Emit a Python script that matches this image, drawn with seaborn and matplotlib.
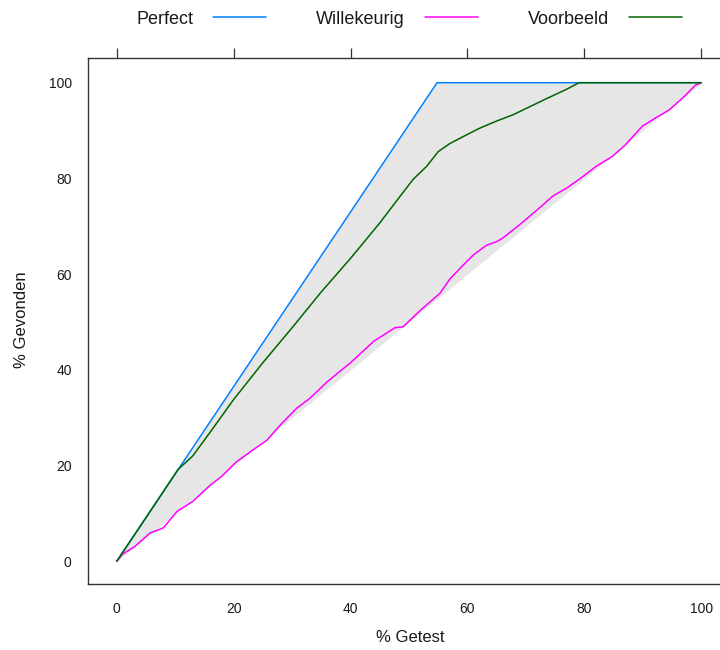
import matplotlib
matplotlib.use("Agg")
import matplotlib.pyplot as plt
import seaborn as sns
import pandas as pd

# ---- data ----
perfect_x = [0, 54.8, 100]
perfect_y = [0, 100, 100]

random_x = [0, 1, 3, 5.7, 8, 10.3, 13, 16, 18, 20.5, 23, 25.7, 28, 30.8, 33, 36,
            40, 44, 47.6, 49, 52, 55.3, 57, 59.2, 61, 63.2, 65, 66, 68.9, 72,
            74.6, 77, 79.1, 82, 84.8, 87, 89.9, 92, 94.5, 97, 99, 100]
random_y = [0, 1.5, 3, 5.9, 7, 10.4, 12.5, 15.9, 17.8, 20.8, 23, 25.3, 28.5, 32, 34, 37.5,
            41.5, 46, 48.8, 49, 52.5, 56, 59, 61.8, 64, 66, 66.8, 67.5, 70.3, 73.5,
            76.3, 78, 79.8, 82.5, 84.6, 87, 90.9, 92.5, 94.3, 97, 99.5, 100]

model_x = [0, 5, 10.5, 13, 16, 20, 25, 30, 35, 40, 45, 48, 50.7, 53, 55, 57, 60,
           62.1, 65, 67.8, 70, 73.4, 76.9, 79.1, 85, 90, 95, 100]
model_y = [0, 9.1, 19.2, 22, 27, 33.8, 41.5, 48.8, 56.3, 63.3, 70.7, 75.5, 79.8, 82.5,
           85.6, 87.3, 89.2, 90.5, 92, 93.3, 94.6, 96.6, 98.6, 100, 100, 100, 100, 100]

series_names = ["Perfect", "Willekeurig", "Voorbeeld"]
series_colors = ["#0080ff", "#ff00ff", "#006400"]
x_ticks = [0, 20, 40, 60, 80, 100]
y_ticks = [0, 20, 40, 60, 80, 100]
x_label = "% Getest"
y_label = "% Gevonden"

# ---- build long table ----
frames = []
for name, xs, ys in zip(series_names,
                        [perfect_x, random_x, model_x],
                        [perfect_y, random_y, model_y]):
    frames.append(pd.DataFrame({"x": xs, "y": ys, "serie": name}))
df = pd.concat(frames, ignore_index=True)

sns.set_style("white")
plt.rcParams["font.family"] = ["Liberation Sans", "DejaVu Sans"]

fig = plt.figure(figsize=(7.2, 6.5), dpi=100)
W, H = 720, 650
left_px, right_px, top_px, bottom_px = 88.3, 729.7, 58.3, 583.7
ax = fig.add_axes([left_px / W, 1 - bottom_px / H,
                   (right_px - left_px) / W, (bottom_px - top_px) / H])

# shaded area between perfect curve and the diagonal
ax.fill_between(perfect_x, perfect_x, perfect_y, color="#E6E6E6", lw=0, zorder=0)

sns.lineplot(data=df, x="x", y="y", hue="serie", hue_order=series_names,
             palette=series_colors, sort=False, estimator=None, lw=1.1, ax=ax)

ax.set_xlim(-4.86, 104.86)
ax.set_ylim(-4.68, 105.1)
ax.set_xticks(x_ticks)
ax.set_yticks(y_ticks)

for side in ["left", "bottom", "top", "right"]:
    ax.spines[side].set_color("#333333")
    ax.spines[side].set_linewidth(1.0)

ax.tick_params(axis="both", direction="out", length=7, width=0.9, color="#333333",
               labelsize=10, labelcolor="#1a1a1a")
ax.tick_params(axis="x", top=True, labeltop=False, pad=6.5)
ax.tick_params(axis="y", right=False, pad=5)

ax.set_xlabel(x_label, fontsize=12, color="#1a1a1a")
ax.set_ylabel(y_label, fontsize=12, color="#1a1a1a")
ax.xaxis.set_label_coords((410 - left_px) / (right_px - left_px), (bottom_px - 637) / (bottom_px - top_px))
ax.xaxis.label.set_verticalalignment("center")
ax.yaxis.set_label_coords((21.3 - left_px) / (right_px - left_px), (bottom_px - 320) / (bottom_px - top_px))
ax.yaxis.label.set_verticalalignment("center")

handles, labels = ax.get_legend_handles_labels()
leg = ax.legend(handles, labels, ncol=3, markerfirst=False, frameon=False,
                loc="center", bbox_to_anchor=(409 / W, 1 - 19 / H),
                bbox_transform=fig.transFigure, fontsize=13,
                handlelength=2.93, handletextpad=1.1, columnspacing=2.77)
for t in leg.get_texts():
    t.set_color("#1a1a1a")

fig.savefig("out.png", dpi=100)
